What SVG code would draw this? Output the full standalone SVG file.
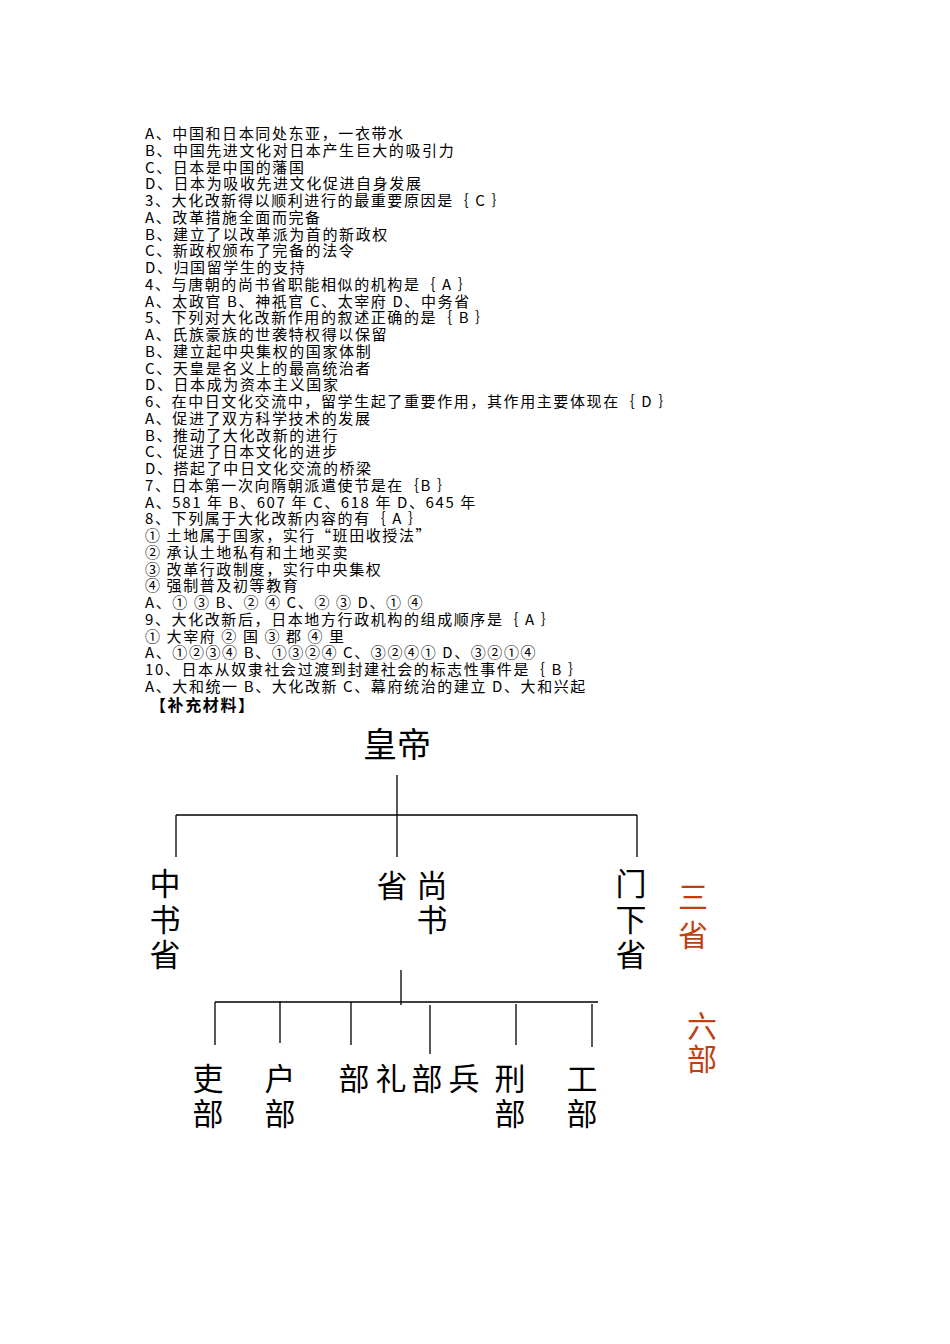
<svg xmlns="http://www.w3.org/2000/svg" width="950" height="1344" viewBox="0 0 950 1344">
<style>
.q{font-family:"Noto Sans CJK SC","Liberation Mono",monospace;font-size:15px;fill:#000;letter-spacing:1.6px}
.b{font-family:"Noto Sans CJK SC",sans-serif;font-size:31px;fill:#000;text-anchor:middle}
.r{font-family:"Noto Sans CJK SC",sans-serif;font-size:30px;fill:#c0400f;text-anchor:middle}
.l{stroke:#000;stroke-width:1.3;fill:none}
</style>
<rect width="950" height="1344" fill="#fff"/>
<g id="questions" class="q" xml:space="preserve">
<text x="145" y="139">A、中国和日本同处东亚，一衣带水</text>
<text x="145" y="156">B、中国先进文化对日本产生巨大的吸引力</text>
<text x="145" y="173">C、日本是中国的藩国</text>
<text x="145" y="189">D、日本为吸收先进文化促进自身发展</text>
<text x="145" y="206">3、大化改新得以顺利进行的最重要原因是｛ C ｝</text>
<text x="145" y="223">A、改革措施全面而完备</text>
<text x="145" y="240">B、建立了以改革派为首的新政权</text>
<text x="145" y="256">C、新政权颁布了完备的法令</text>
<text x="145" y="273">D、归国留学生的支持</text>
<text x="145" y="290">4、与唐朝的尚书省职能相似的机构是｛ A ｝</text>
<text x="145" y="307">A、太政官  B、神祇官  C、太宰府  D、中务省</text>
<text x="145" y="323">5、下列对大化改新作用的叙述正确的是｛ B ｝</text>
<text x="145" y="340">A、氏族豪族的世袭特权得以保留</text>
<text x="145" y="357">B、建立起中央集权的国家体制</text>
<text x="145" y="374">C、天皇是名义上的最高统治者</text>
<text x="145" y="390">D、日本成为资本主义国家</text>
<text x="145" y="407">6、在中日文化交流中，留学生起了重要作用，其作用主要体现在｛ D ｝</text>
<text x="145" y="424">A、促进了双方科学技术的发展</text>
<text x="145" y="441">B、推动了大化改新的进行</text>
<text x="145" y="457">C、促进了日本文化的进步</text>
<text x="145" y="474">D、搭起了中日文化交流的桥梁</text>
<text x="145" y="491">7、日本第一次向隋朝派遣使节是在｛B  ｝</text>
<text x="145" y="508">A、581 年  B、607 年  C、618 年  D、645 年</text>
<text x="145" y="524">8、下列属于大化改新内容的有｛ A ｝</text>
<text x="145" y="541">① 土地属于国家，实行“班田收授法”</text>
<text x="145" y="558">② 承认土地私有和土地买卖</text>
<text x="145" y="575">③ 改革行政制度，实行中央集权</text>
<text x="145" y="591">④ 强制普及初等教育</text>
<text x="145" y="608">A、① ③    B、② ④    C、② ③   D、① ④</text>
<text x="145" y="625">9、大化改新后，日本地方行政机构的组成顺序是｛ A ｝</text>
<text x="145" y="642">① 大宰府 ② 国  ③ 郡  ④ 里</text>
<text x="145" y="658">A、①②③④ B、①③②④ C、③②④① D、③②①④</text>
<text x="145" y="675">10、日本从奴隶社会过渡到封建社会的标志性事件是｛ B ｝</text>
<text x="145" y="692">A、大和统一 B、大化改新 C、幕府统治的建立 D、大和兴起</text>
<text x="150" y="711" style="font-weight:bold;font-size:16px">【补充材料】</text>
</g>
<g id="connectors" class="l">
<path d="M397 775V857M176 815H637M176 815V857M637 815V857"/>
<path d="M401 970V1005M215 1002H598M215 1002V1045M280 1001V1043M351 1002V1045M430 1005V1054M516 1004V1045M592 1004V1047"/>
</g>
<g id="emperor"><text class="b" x="397" y="757" style="font-size:34px">皇帝</text></g>
<g id="zhongshu" class="b"><text x="165" y="895">中</text><text x="165" y="931">书</text><text x="165" y="966">省</text></g>
<g id="shangshu" class="b"><text x="392" y="897">省</text><text x="432" y="897">尚</text><text x="432" y="931">书</text></g>
<g id="menxia" class="b"><text x="631" y="895">门</text><text x="631" y="931">下</text><text x="631" y="966">省</text></g>
<g id="sansheng" class="r"><text x="693" y="908">三</text><text x="693" y="946">省</text></g>
<g id="libu" class="b"><text x="208" y="1090">吏</text><text x="208" y="1125">部</text></g>
<g id="hubu" class="b"><text x="280" y="1090">户</text><text x="280" y="1125">部</text></g>
<g id="libu2-bingbu" class="b"><text x="354" y="1090">部</text><text x="391" y="1090">礼</text><text x="427" y="1090">部</text><text x="464" y="1090">兵</text></g>
<g id="xingbu" class="b"><text x="510" y="1090">刑</text><text x="510" y="1125">部</text></g>
<g id="gongbu" class="b"><text x="582" y="1090">工</text><text x="582" y="1125">部</text></g>
<g id="liubu" class="r"><text x="702" y="1037">六</text><text x="702" y="1070">部</text></g>
</svg>
